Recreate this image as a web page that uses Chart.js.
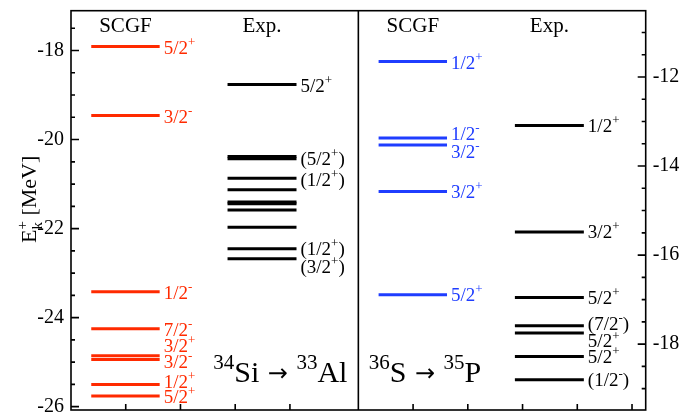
<!DOCTYPE html>
<html>
<head>
<meta charset="utf-8">
<script src="https://cdn.jsdelivr.net/npm/chart.js@4"></script>
<style>
html, body { margin: 0; padding: 0; background: #fff; }
</style>
</head>
<body>
<canvas id="chart" width="696" height="414"></canvas>
<script>
// 34Si -> 33Al, left axis (MeV)
const siScgfE = [-17.91, -19.46, -23.42, -24.25, -24.855, -24.94, -25.50, -25.76];
const siScgfJ = ['5/2^+', '3/2^-', '1/2^-', '7/2^-', '3/2^+', '3/2^-', '1/2^+', '5/2^+'];
const siExpE = [-18.765, -20.38, -20.43, -20.87, -21.13, -21.40, -21.44, -21.58, -21.97, -22.45, -22.68];
const siExpJ = ['5/2^+', '(5/2^+)', '', '(1/2^+)', '', '', '', '', '', '(1/2^+)', '(3/2^+)'];

// 36S -> 35P, right axis (MeV)
const sScgfE = [-11.65, -13.37, -13.525, -14.57, -16.89];
const sScgfJ = ['1/2^+', '1/2^-', '3/2^-', '3/2^+', '5/2^+'];
const sExpE = [-13.09, -15.48, -16.95, -17.59, -17.75, -18.28, -18.80];
const sExpJ = ['1/2^+', '3/2^+', '5/2^+', '(7/2^-)', '5/2^+', '5/2^+', '(1/2^-)'];

const columns = ['SCGF', 'Exp.'];
const reactions = ['^{34}Si \u2192 ^{33}Al', '^{36}S \u2192 ^{35}P'];
const leftTicks = [-26, -24, -22, -20, -18];
const rightTicks = [-18, -16, -14, -12];
const yTitle = 'E_k^+ [MeV]';

// layout / style
const RED = '#ff2a00', BLUE = '#1f3dff', BLACK = '#000';
const FONT = '"Liberation Serif", "Times New Roman", serif';
const colSpan = [[0.37, 1.62], [2.86, 4.12]];
const panelShift = 5.25;
const bottomTicks = [[1, 2, 3, 4], [1, 2, 3, 4, 5]];
// small vertical nudges (px) of the spin labels
const siScgfDy = [1, 1, 1, 1, -10, 2, -3, 1];
const siExpDy = [1, 2, 0, 1, 0, 0, 0, 0, 0, 0, 8];
const sScgfDy = [1, -5, 7, 0, 0];
const sExpDy = [0, 0, 0, -2, 8, 0, 0];

function levelSets(E, J, span, shift, color, axis, dy) {
    return E.map((e, i) => ({
        data: [{x: span[0] + shift, y: e}, {x: span[1] + shift, y: e}],
        borderColor: color,
        borderWidth: 3,
        borderCapStyle: 'butt',
        pointRadius: 0,
        yAxisID: axis,
        jLabel: J[i],
        jDy: dy[i]
    }));
}

function parseRich(s) {
    const out = [];
    let i = 0, buf = '';
    const flush = () => { if (buf) { out.push({t: buf, k: 'n'}); buf = ''; } };
    while (i < s.length) {
        const c = s[i];
        if (c === '^' || c === '_') {
            flush();
            let t;
            if (s[i + 1] === '{') {
                const j = s.indexOf('}', i);
                t = s.slice(i + 2, j);
                i = j + 1;
            } else {
                t = s[i + 1];
                i += 2;
            }
            out.push({t: t, k: c === '^' ? 'sup' : 'sub'});
        } else if (c === '\u2192') {
            flush();
            out.push({t: c, k: 'arrow'});
            i++;
        } else {
            buf += c;
            i++;
        }
    }
    flush();
    return out;
}

// draws text with ^sup and _sub parts, returns its width
function drawRich(ctx, s, x, y, size, color, measureOnly) {
    const small = Math.round(size * 0.7);
    let cx = x, lastSubW = 0;
    ctx.fillStyle = color;
    ctx.textBaseline = 'alphabetic';
    ctx.textAlign = 'left';
    parseRich(s).forEach(p => {
        if (p.k === 'arrow') {
            ctx.font = Math.round(size * 0.8) + 'px "DejaVu Sans"';
            const w = ctx.measureText(p.t).width;
            if (!measureOnly) ctx.fillText(p.t, cx + 1, y - size * 0.02);
            cx += w + 2;
            lastSubW = 0;
            return;
        }
        const sz = p.k === 'n' ? size : small;
        ctx.font = sz + 'px ' + FONT;
        const w = ctx.measureText(p.t).width;
        if (p.k === 'sub') {
            if (!measureOnly) ctx.fillText(p.t, cx, y + size * 0.28);
            lastSubW = w;
            cx += w;
            return;
        }
        if (p.k === 'sup') {
            const sx = lastSubW ? cx - lastSubW : cx;
            if (!measureOnly) ctx.fillText(p.t, sx, y - size * 0.42);
            cx = Math.max(cx, sx + w);
            lastSubW = 0;
            return;
        }
        if (!measureOnly) ctx.fillText(p.t, cx, y);
        cx += w;
        lastSubW = 0;
    });
    return cx - x;
}

const decorations = {
    id: 'decorations',
    afterDatasetsDraw(chart) {
        const ctx = chart.ctx;
        const a = chart.chartArea;
        const x = chart.scales.x, y = chart.scales.y, y2 = chart.scales.y2;
        const mid = x.getPixelForValue(panelShift);
        ctx.save();

        // frame and divider
        ctx.strokeStyle = BLACK;
        ctx.lineWidth = 1.6;
        ctx.strokeRect(a.left, a.top, a.right - a.left, a.bottom - a.top);
        ctx.beginPath();
        ctx.moveTo(mid, a.top);
        ctx.lineTo(mid, a.bottom);
        // inward ticks
        y.ticks.forEach(t => {
            const py = y.getPixelForValue(t.value);
            const len = leftTicks.includes(t.value) ? 8 : 4;
            ctx.moveTo(a.left, py);
            ctx.lineTo(a.left + len, py);
        });
        y2.ticks.forEach(t => {
            const py = y2.getPixelForValue(t.value);
            const len = rightTicks.includes(t.value) ? 8 : 4;
            ctx.moveTo(a.right, py);
            ctx.lineTo(a.right - len, py);
        });
        bottomTicks.forEach((list, p) => list.forEach(v => {
            const px = x.getPixelForValue(v + p * panelShift);
            ctx.moveTo(px, a.bottom);
            ctx.lineTo(px, a.bottom - 6);
        }));
        ctx.stroke();

        // column headers
        ctx.fillStyle = BLACK;
        ctx.font = '21px ' + FONT;
        ctx.textAlign = 'center';
        ctx.textBaseline = 'alphabetic';
        [0, 1].forEach(p => columns.forEach((c, k) => {
            const cx = x.getPixelForValue((colSpan[k][0] + colSpan[k][1]) / 2 + p * panelShift);
            ctx.fillText(c, cx, a.top + 21.5);
        }));

        // spin labels
        chart.data.datasets.forEach((ds, i) => {
            if (!ds.jLabel) return;
            const pt = chart.getDatasetMeta(i).data[1];
            drawRich(ctx, ds.jLabel, pt.x + 4, pt.y + 6.5 + ds.jDy, 19, ds.borderColor);
        });

        // reactions
        drawRich(ctx, reactions[0], x.getPixelForValue(2.6), a.bottom - 28, 30, BLACK);
        drawRich(ctx, reactions[1], x.getPixelForValue(panelShift + 0.19), a.bottom - 28, 30, BLACK);

        // y title
        const tw = drawRich(ctx, yTitle, 0, 0, 22, BLACK, true);
        ctx.translate(36, (a.top + a.bottom) / 2 - 11 + tw / 2);
        ctx.rotate(-Math.PI / 2);
        drawRich(ctx, yTitle, 0, 0, 22, BLACK);
        ctx.restore();
    }
};

function yScale(position, min, max, from, to, labels, width) {
    return {
        type: 'linear',
        position: position,
        min: min,
        max: max,
        afterBuildTicks: s => {
            const t = [];
            for (let v = from; v <= to; v += 0.5) t.push({value: v});
            s.ticks = t;
        },
        afterFit: s => {
            s.width = width;
            s.paddingTop = 0;
            s.paddingBottom = 0;
        },
        grid: {display: false, drawTicks: false},
        border: {display: false},
        ticks: {
            autoSkip: false,
            padding: 7,
            color: BLACK,
            font: {size: 20, family: FONT},
            callback: v => labels.includes(v) ? String(v) : ''
        }
    };
}

Chart.defaults.font.family = FONT;

new Chart(document.getElementById('chart'), {
    type: 'line',
    data: {
        datasets: [
            ...levelSets(siScgfE, siScgfJ, colSpan[0], 0, RED, 'y', siScgfDy),
            ...levelSets(siExpE, siExpJ, colSpan[1], 0, BLACK, 'y', siExpDy),
            ...levelSets(sScgfE, sScgfJ, colSpan[0], panelShift, BLUE, 'y2', sScgfDy),
            ...levelSets(sExpE, sExpJ, colSpan[1], panelShift, BLACK, 'y2', sExpDy)
        ]
    },
    options: {
        responsive: false,
        animation: false,
        devicePixelRatio: 1,
        layout: {padding: {left: 0, right: 0, top: 10.7, bottom: 4}},
        plugins: {legend: {display: false}, tooltip: {enabled: false}},
        scales: {
            x: {type: 'linear', min: 0, max: 2 * panelShift, display: false},
            y: yScale('left', -26.075, -17.105, -26, -17.5, leftTicks, 71),
            y2: yScale('right', -19.48, -10.51, -19, -11, rightTicks, 50.3)
        }
    },
    plugins: [decorations]
});
</script>
</body>
</html>
